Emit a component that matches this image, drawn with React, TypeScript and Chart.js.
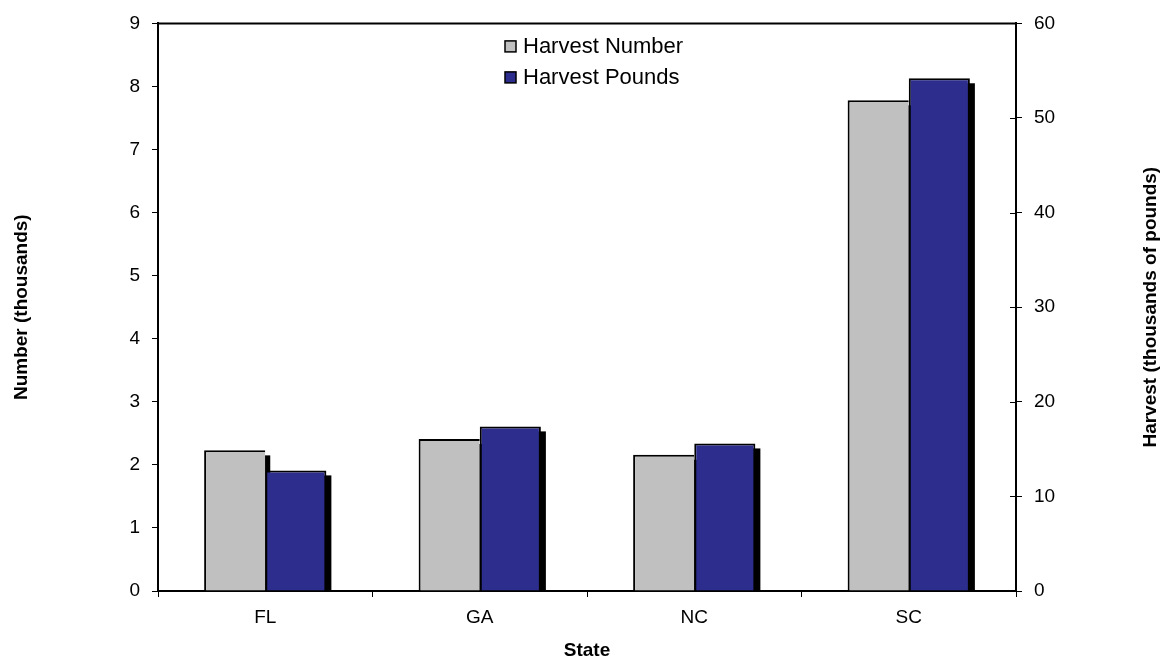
import { useEffect, useRef } from 'react';
import { Chart, registerables } from 'chart.js';

Chart.register(...registerables);

const categories = ['FL', 'GA', 'NC', 'SC'];
const harvestNumber = [2.23, 2.41, 2.16, 7.78];
const harvestPounds = [12.75, 17.4, 15.6, 54.2];
const seriesLabels = ['Harvest Number', 'Harvest Pounds'];
const seriesColors = ['#C0C0C0', '#2D2D8E'];
const leftAxisMax = 9;
const rightAxisMax = 60;
const xTitle = 'State';
const leftTitle = 'Number (thousands)';
const rightTitle = 'Harvest (thousands of pounds)';

const FONT = '"Liberation Sans", Arial, sans-serif';

const decor = {
  id: 'decor',
  beforeDatasetsDraw(chart: any) {
    const { ctx, chartArea: a } = chart;
    ctx.save();
    ctx.beginPath();
    ctx.rect(a.left, a.top, a.right - a.left, a.bottom - a.top);
    ctx.clip();
    ctx.fillStyle = '#000';
    chart.data.datasets.forEach((_: any, i: number) => {
      const meta = chart.getDatasetMeta(i);
      meta.data.forEach((el: any) => {
        const { x, y, base, width } = el.getProps(['x', 'y', 'base', 'width'], true);
        ctx.fillRect(x - width / 2 + 5, y + 5, width, base - y);
      });
    });
    ctx.restore();
  },
  afterDraw(chart: any) {
    const { ctx, chartArea: a } = chart;
    ctx.save();
    ctx.strokeStyle = '#000';
    ctx.lineWidth = 2;
    ctx.beginPath();
    ctx.moveTo(a.left - 1, a.top);
    ctx.lineTo(a.right + 1, a.top);
    ctx.stroke();
    const y1 = chart.scales.y1;
    ctx.lineWidth = 1;
    y1.ticks.forEach((t: any) => {
      const py = Math.round(y1.getPixelForValue(t.value)) + 0.5;
      ctx.beginPath();
      ctx.moveTo(a.right - 6, py);
      ctx.lineTo(a.right, py);
      ctx.stroke();
    });
    const cx = (a.left + a.right) / 2;
    const lx = cx - 82;
    ctx.font = `22px ${FONT}`;
    ctx.textBaseline = 'middle';
    ctx.textAlign = 'left';
    seriesLabels.forEach((label, i) => {
      const ly = a.top + 23 + i * 31;
      ctx.fillStyle = seriesColors[i];
      ctx.fillRect(lx, ly - 5.5, 11, 11);
      ctx.strokeStyle = '#000';
      ctx.lineWidth = 1.5;
      ctx.strokeRect(lx, ly - 5.5, 11, 11);
      ctx.fillStyle = '#000';
      ctx.fillText(label, lx + 18, ly + 1);
    });
    ctx.font = `bold 19px ${FONT}`;
    ctx.textAlign = 'center';
    ctx.fillStyle = '#000';
    ctx.fillText(xTitle, cx, 651);
    const cy = (a.top + a.bottom) / 2;
    ctx.save();
    ctx.translate(22, cy);
    ctx.rotate(-Math.PI / 2);
    ctx.fillText(leftTitle, 0, 0);
    ctx.restore();
    ctx.save();
    ctx.translate(1151, cy);
    ctx.rotate(-Math.PI / 2);
    ctx.fillText(rightTitle, 0, 0);
    ctx.restore();
    ctx.restore();
  },
};

export default function App() {
  const ref = useRef<HTMLCanvasElement>(null);
  useEffect(() => {
    if (!ref.current) return;
    const tickFont = { family: FONT, size: 19 };
    const chart = new Chart(ref.current, {
      type: 'bar',
      data: {
        labels: categories,
        datasets: [
          {
            label: seriesLabels[0],
            data: harvestNumber,
            backgroundColor: seriesColors[0],
            borderColor: '#000',
            borderWidth: { top: 2, left: 2, right: 0, bottom: 0 },
            borderSkipped: false,
            yAxisID: 'y',
            categoryPercentage: 0.57,
            barPercentage: 1,
          },
          {
            label: seriesLabels[1],
            data: harvestPounds,
            backgroundColor: seriesColors[1],
            borderColor: '#000',
            borderWidth: 2,
            yAxisID: 'y1',
            categoryPercentage: 0.57,
            barPercentage: 1,
          },
        ],
      },
      options: {
        animation: false,
        responsive: false,
        maintainAspectRatio: false,
        layout: { padding: { top: 22, left: 0, right: 0, bottom: 0 } },
        plugins: { legend: { display: false }, tooltip: { enabled: false } },
        scales: {
          x: {
            grid: { display: true, drawOnChartArea: false, drawTicks: true, tickLength: 6, color: '#000', offset: true },
            border: { display: true, color: '#000', width: 2 },
            ticks: { color: '#000', font: tickFont, padding: 9 },
            afterFit: (s: any) => { s.height = 72; },
          },
          y: {
            position: 'left',
            min: 0,
            max: leftAxisMax,
            grid: { display: true, drawOnChartArea: false, drawTicks: true, tickLength: 6, color: '#000' },
            border: { display: true, color: '#000', width: 2 },
            ticks: { stepSize: 1, color: '#000', font: tickFont, padding: 12 },
            afterFit: (s: any) => { s.width = 158; },
          },
          y1: {
            position: 'right',
            min: 0,
            max: rightAxisMax,
            grid: { display: true, drawOnChartArea: false, drawTicks: true, tickLength: 6, color: '#000' },
            border: { display: true, color: '#000', width: 2 },
            ticks: { stepSize: 10, color: '#000', font: tickFont, padding: 12 },
            afterFit: (s: any) => { s.width = 156; },
          },
        },
      },
      plugins: [decor],
    });
    return () => chart.destroy();
  }, []);
  return (
    <div style={{ position: 'fixed', left: 0, top: 0, width: 1172, height: 663, background: '#fff' }}>
      <canvas ref={ref} width={1172} height={663} style={{ width: 1172, height: 663 }} />
    </div>
  );
}
